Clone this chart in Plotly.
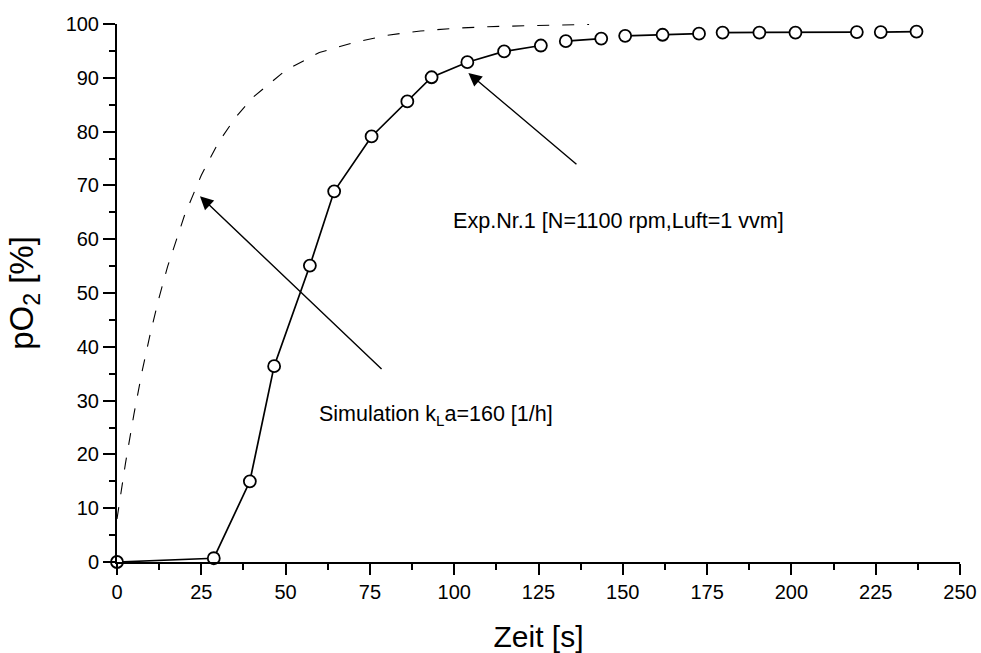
import plotly.graph_objects as go

# Experimental data (Exp.Nr.1)
t_exp = [0, 28.7, 39.4, 46.6, 57.2, 64.4, 75.5, 86.1, 93.3, 103.9, 114.8,
         125.7, 133.1, 143.6, 150.7, 161.8, 172.6, 179.6, 190.5, 201.2,
         219.4, 226.5, 237.1]
po2_exp = [0, 0.7, 15.0, 36.4, 55.1, 68.9, 79.1, 85.6, 90.1, 92.9, 94.9,
           96.0, 96.8, 97.3, 97.8, 98.0, 98.2, 98.4, 98.4, 98.4,
           98.5, 98.5, 98.6]

# Simulation curve (kLa = 160 1/h)
t_sim = [0, 2.5, 5, 7.5, 10, 12.5, 15, 20, 25, 30, 35, 40, 50, 60, 70,
         80, 90, 100, 110, 120, 130, 140]
po2_sim = [8.0, 18.3, 27.4, 35.6, 42.8, 49.2, 54.9, 64.4, 71.9, 77.9, 82.5,
           86.2, 91.4, 94.7, 96.5, 97.9, 98.7, 99.2, 99.5, 99.7, 99.8, 99.9]

x_ticks = [0, 25, 50, 75, 100, 125, 150, 175, 200, 225, 250]
y_ticks = [0, 10, 20, 30, 40, 50, 60, 70, 80, 90, 100]

FONT = "Liberation Sans, Arial, Helvetica, sans-serif"

# plot area geometry (px) used only to decide which short connecting
# segments are hidden behind the markers, as in the original
W_PLOT, H_PLOT = 843, 538
px_x = W_PLOT / 250.0
px_y = H_PLOT / 100.0
lx, ly = [], []
for i in range(len(t_exp)):
    if i > 0:
        d = ((t_exp[i] - t_exp[i-1]) * px_x) ** 2 + ((po2_exp[i] - po2_exp[i-1]) * px_y) ** 2
        if d ** 0.5 < 25.5:
            lx.append(None); ly.append(None)
    lx.append(t_exp[i]); ly.append(po2_exp[i])

fig = go.Figure()
fig.add_trace(go.Scatter(
    x=t_sim, y=po2_sim, mode="lines",
    line=dict(color="black", width=1.1, dash="12px,13px"),
    hoverinfo="skip", showlegend=False))
fig.add_trace(go.Scatter(
    x=lx, y=ly, mode="lines", connectgaps=False,
    line=dict(color="black", width=1.7),
    showlegend=False, cliponaxis=False))
fig.add_trace(go.Scatter(
    x=t_exp, y=po2_exp, mode="markers",
    marker=dict(symbol="circle", size=12, color="white",
                line=dict(color="black", width=1.8)),
    showlegend=False, cliponaxis=False))

fig.update_layout(
    width=981, height=653,
    margin=dict(l=117, r=21, t=24, b=91),
    paper_bgcolor="white", plot_bgcolor="white",
    font=dict(family=FONT, color="black", size=20),
    showlegend=False,
)
fig.update_xaxes(
    range=[0, 250], tickvals=x_ticks, ticktext=[str(v) for v in x_ticks],
    automargin=False,
    showgrid=False, zeroline=False, showline=True, linecolor="black", linewidth=2,
    ticks="outside", ticklen=11, tickwidth=2, tickcolor="black",
    minor=dict(tickvals=[12.5 + 25 * k for k in range(10)], ticks="outside",
               ticklen=6, tickwidth=2, tickcolor="black"),
    tickfont=dict(size=20, family=FONT),
    title=dict(text="Zeit [s]", font=dict(size=30, family=FONT), standoff=24),
)
fig.update_yaxes(
    range=[0, 100], tickvals=y_ticks, ticktext=[str(v) for v in y_ticks],
    automargin=False,
    showgrid=False, zeroline=False, showline=True, linecolor="black", linewidth=2,
    ticks="outside", ticklen=12, tickwidth=2, tickcolor="black",
    minor=dict(tickvals=[5 + 10 * k for k in range(10)], ticks="outside",
               ticklen=6, tickwidth=2, tickcolor="black"),
    tickfont=dict(size=20, family=FONT),
    title=dict(text="pO<sub>2</sub> [%]", font=dict(size=33, family=FONT), standoff=22),
)

# arrows
fig.add_annotation(x=24.6, y=68.0, ax=78.9, ay=35.6, xref="x", yref="y",
                   axref="x", ayref="y", text="", showarrow=True,
                   arrowhead=2, arrowsize=1.9, arrowwidth=1.4, arrowcolor="black",
                   standoff=0, startstandoff=0)
fig.add_annotation(x=104.2, y=90.9, ax=136.7, ay=73.7, xref="x", yref="y",
                   axref="x", ayref="y", text="", showarrow=True,
                   arrowhead=2, arrowsize=1.9, arrowwidth=1.4, arrowcolor="black",
                   standoff=0, startstandoff=0)
# labels
fig.add_annotation(x=94.6, y=27.2, xref="x", yref="y",
                   text="Simulation k<sub>L</sub>a=160 [1/h]", showarrow=False,
                   xanchor="center", yanchor="middle", font=dict(size=21.5, family=FONT))
fig.add_annotation(x=148.6, y=63.4, xref="x", yref="y",
                   text="Exp.Nr.1 [N=1100 rpm,Luft=1 vvm]", showarrow=False,
                   xanchor="center", yanchor="middle", font=dict(size=21.6, family=FONT))

fig.write_html("out.html")
